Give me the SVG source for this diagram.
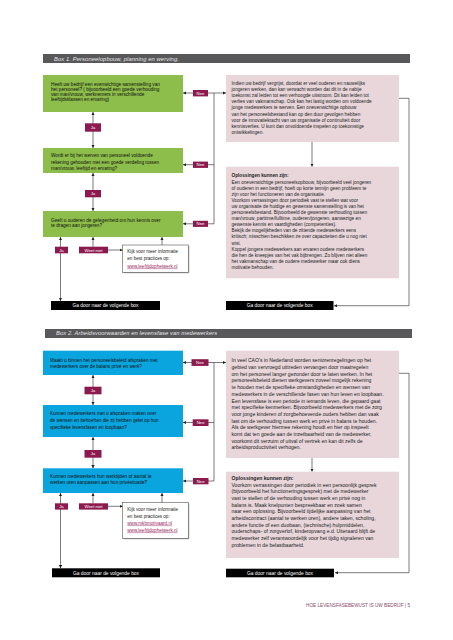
<svg xmlns="http://www.w3.org/2000/svg" width="453" height="640" viewBox="0 0 453 640">
<style>
text{font-family:"Liberation Sans",Arial,sans-serif;}
.hdr{fill:#58585a}
.htx{fill:#e6e6e6;font-size:5.8px;font-style:italic;letter-spacing:0.1px}
.grn{fill:#8dbd4a}
.blu{fill:#0aa4de}
.pnk{fill:#e8d6db}
.q{font-size:4.7px;fill:#111}
.p1{font-size:4.7px;fill:#222}
.p2{font-size:5.1px;fill:#222}
.b{font-weight:bold}
.lbl{fill:#8c1a4e}
.lt{font-size:4.3px;fill:#fff;text-anchor:middle}
.bar{fill:#000}
.bt{font-size:4.9px;fill:#fff;text-anchor:middle}
.info{fill:#fff;stroke:#333;stroke-width:0.5}
.shd{fill:#bbb}
.it{font-size:4.6px;fill:#222}
.lnk{fill:#9a2a66;text-decoration:underline}
.ln{stroke:#222;stroke-width:0.6;fill:none}
.lg{stroke:#444;stroke-width:0.7;fill:none}
.ft{font-size:4.6px;fill:#8a4d6c}
</style>
<defs>
<marker id="ah" viewBox="0 0 10 10" refX="10" refY="5" markerWidth="3.2" markerHeight="3.2" markerUnits="userSpaceOnUse" orient="auto-start-reverse"><path d="M0,0 L10,5 L0,10 z" fill="#222"/></marker>
</defs>
<rect width="453" height="640" fill="#fff"/>

<g id="header1"><rect class="hdr" x="43" y="54" width="367" height="9"/><text class="htx" x="54" y="60.5">Box 1.  Personeelopbouw, planning en werving.</text></g>

<g id="connectors">
<line class="ln" x1="93" y1="112" x2="93" y2="148" marker-start="url(#ah)" marker-end="url(#ah)"/>
<line class="ln" x1="93" y1="173" x2="93" y2="211" marker-start="url(#ah)" marker-end="url(#ah)"/>
<line class="ln" x1="193" y1="93" x2="183" y2="93" marker-end="url(#ah)"/>
<line class="ln" x1="208" y1="93" x2="226" y2="93" marker-end="url(#ah)"/>
<line class="ln" x1="193" y1="164.7" x2="183" y2="164.7" marker-end="url(#ah)"/>
<line class="ln" x1="208" y1="164.7" x2="214" y2="164.7"/>
<line class="ln" x1="193" y1="223.8" x2="183" y2="223.8" marker-end="url(#ah)"/>
<polyline class="ln" points="208,223.8 214,223.8 214,93"/>
<line class="ln" x1="60.5" y1="237" x2="60.5" y2="301" marker-start="url(#ah)" marker-end="url(#ah)"/>
<line class="ln" x1="93" y1="246.7" x2="93" y2="237" marker-end="url(#ah)"/>
<line class="ln" x1="162" y1="245" x2="162" y2="237" marker-end="url(#ah)"/>
<line class="ln" x1="108" y1="250" x2="122.7" y2="250" marker-end="url(#ah)"/>
<line class="ln" x1="312" y1="142" x2="312" y2="166.7" marker-end="url(#ah)"/>
<polyline class="lg" points="399,98.3 409,98.3 409,305.7 334,305.7" marker-end="url(#ah)"/>

<line class="ln" x1="93" y1="375" x2="93" y2="405" marker-start="url(#ah)" marker-end="url(#ah)"/>
<line class="ln" x1="93" y1="437" x2="93" y2="468.3" marker-start="url(#ah)" marker-end="url(#ah)"/>
<line class="ln" x1="192" y1="362.5" x2="183" y2="362.5" marker-end="url(#ah)"/>
<line class="ln" x1="208" y1="362.5" x2="226" y2="362.5" marker-end="url(#ah)"/>
<line class="ln" x1="193" y1="422.5" x2="183" y2="422.5" marker-end="url(#ah)"/>
<line class="ln" x1="208" y1="422.5" x2="214" y2="422.5"/>
<line class="ln" x1="193" y1="481" x2="183" y2="481" marker-end="url(#ah)"/>
<polyline class="ln" points="208,481 214,481 214,362.5"/>
<line class="ln" x1="60.5" y1="493" x2="60.5" y2="568.3" marker-start="url(#ah)" marker-end="url(#ah)"/>
<line class="ln" x1="93" y1="503.3" x2="93" y2="493" marker-end="url(#ah)"/>
<line class="ln" x1="162" y1="502.7" x2="162" y2="493" marker-end="url(#ah)"/>
<line class="ln" x1="108" y1="506.3" x2="122.7" y2="506.3" marker-end="url(#ah)"/>
<line class="ln" x1="312" y1="458" x2="312" y2="471.7" marker-end="url(#ah)"/>
<polyline class="lg" points="399,373.3 409,373.3 409,572.7 335,572.7" marker-end="url(#ah)"/>
</g>

<g id="q1"><rect class="grn" x="43" y="75" width="140" height="37"/>
<text class="q"><tspan x="51" y="85.7">Heeft uw bedrijf een evenwichtige samenstelling van</tspan><tspan x="51" y="90.7">het personeel? ( bijvoorbeeld een goede verhouding</tspan><tspan x="51" y="95.7">van man/vrouw, werknemers in verschillende</tspan><tspan x="51" y="100.7">leeftijdsklassen en ervaring)</tspan></text></g>

<g id="q2"><rect class="grn" x="43" y="148" width="140" height="25"/>
<text class="q"><tspan x="51" y="157.2">Wordt er bij het werven van personeel voldoende</tspan><tspan x="51" y="163.5">rekening gehouden met een goede verdeling tussen</tspan><tspan x="51" y="169.7">man/vrouw, leeftijd en ervaring?</tspan></text></g>

<g id="q3"><rect class="grn" x="43" y="211" width="140" height="26"/>
<text class="q"><tspan x="51" y="221.7">Geeft u ouderen de gelegenheid om hun kennis over</tspan><tspan x="51" y="227.4">te dragen aan jongeren?</tspan></text></g>

<g id="ja1a"><rect class="lbl" x="85" y="123.3" width="16" height="8.4"/><text class="lt" x="93" y="129">Ja</text></g>
<g id="ja1b"><rect class="lbl" x="85" y="190" width="16" height="7.3"/><text class="lt" x="93" y="195.2">Ja</text></g>
<g id="nee1a"><rect class="lbl" x="193" y="90" width="15" height="6.4"/><text class="lt" x="200.5" y="94.8">Nee</text></g>
<g id="nee1b"><rect class="lbl" x="193" y="161.6" width="15" height="6.3"/><text class="lt" x="200.5" y="166.3">Nee</text></g>
<g id="nee1c"><rect class="lbl" x="193" y="220.8" width="15" height="6.1"/><text class="lt" x="200.5" y="225.4">Nee</text></g>
<g id="ja1c"><rect class="lbl" x="55" y="246.7" width="13" height="6.6"/><text class="lt" x="61.5" y="251.6">Ja</text></g>
<g id="wn1"><rect class="lbl" x="79" y="246.7" width="29" height="6.6"/><text class="lt" x="93.5" y="251.6">Weet niet</text></g>

<g id="info1"><rect class="shd" x="123.7" y="246" width="65.6" height="27.3"/><rect class="info" x="122.7" y="245" width="65.6" height="27.3"/>
<text class="it"><tspan x="127.3" y="252.6">Kijk voor meer informatie</tspan><tspan x="127.3" y="260">en best practices op:</tspan><tspan class="lnk" x="127.3" y="267.6">www.leeftijdophetwerk.nl</tspan></text></g>

<g id="t1"><rect class="pnk" x="226" y="75" width="173" height="67"/>
<text class="p1"><tspan x="231.5" y="85">Indien uw bedrijf vergrijst, doordat er veel ouderen en nauwelijks</tspan><tspan x="231.5" y="91.1">jongeren werken, dan kan verwacht worden dat dit in de nabije</tspan><tspan x="231.5" y="97.2">toekomst zal leiden tot een verhoogde uitstroom. Dit kan leiden tot</tspan><tspan x="231.5" y="103.3">verlies van vakmanschap. Ook kan het lastig worden om voldoende</tspan><tspan x="231.5" y="109.4">jonge medewerkers te werven. Een onevenwichtige opbouw</tspan><tspan x="231.5" y="115.5">van het personeelsbestand kan op den duur gevolgen hebben</tspan><tspan x="231.5" y="121.6">voor de innovatiekracht van uw organisatie of continuïteit door</tspan><tspan x="231.5" y="127.7">kennisverlies. U kunt dan onvoldoende inspelen op toekomstige</tspan><tspan x="231.5" y="133.8">ontwikkelingen.</tspan></text></g>

<g id="s1"><rect class="pnk" x="226" y="166.7" width="173" height="111.6"/>
<text class="p1"><tspan class="b" x="231.5" y="177.4">Oplossingen kunnen zijn:</tspan><tspan x="231.5" y="183.5">Een onevenwichtige personeelsopbouw, bijvoorbeeld veel jongeren</tspan><tspan x="231.5" y="189.6">of ouderen in een bedrijf, hoeft op korte termijn geen probleem te</tspan><tspan x="231.5" y="195.7">zijn voor het functioneren van de organisatie.</tspan><tspan x="231.5" y="201.8">Voorkom verrassingen door periodiek vast te stellen wat voor</tspan><tspan x="231.5" y="207.9">uw organisatie de huidige en gewenste samenstelling is van het</tspan><tspan x="231.5" y="214">personeelsbestand. Bijvoorbeeld de gewenste verhouding tussen</tspan><tspan x="231.5" y="220.1">man/vrouw, parttime/fulltime, ouderen/jongeren, aanwezige en</tspan><tspan x="231.5" y="226.2">gewenste kennis en vaardigheden (competenties).</tspan><tspan x="231.5" y="232.3">Bekijk de mogelijkheden van de zittende medewerkers eens</tspan><tspan x="231.5" y="238.4">kritisch; misschien beschikken ze over capaciteiten die u nog niet</tspan><tspan x="231.5" y="244.5">wist.</tspan><tspan x="231.5" y="250.6">Koppel jongere medewerkers aan ervaren oudere medewerkers</tspan><tspan x="231.5" y="256.7">die hen de kneepjes van het vak bijbrengen. Zo blijven niet alleen</tspan><tspan x="231.5" y="262.8">het vakmanschap van de oudere medewerker maar ook diens</tspan><tspan x="231.5" y="268.9">motivatie behouden.</tspan></text></g>

<g id="go1a"><rect class="bar" x="51" y="301" width="109" height="9"/><text class="bt" x="105.5" y="307.3">Ga door naar de volgende box</text></g>
<g id="go1b"><rect class="bar" x="226" y="301" width="107.5" height="9"/><text class="bt" x="279.7" y="307.3">Ga door naar de volgende box</text></g>

<g id="header2"><rect class="hdr" x="45" y="329" width="367" height="9"/><text class="htx" x="56" y="335.4">Box 2.  Arbeidsvoorwaarden en levensfase van medewerkers</text></g>

<g id="q4"><rect class="blu" x="43" y="350.7" width="140" height="24.3"/>
<text class="q"><tspan x="50" y="361.7">Maakt u binnen het personeelsbeleid afspraken met</tspan><tspan x="50" y="368">medewerkers over de balans privé en werk?</tspan></text></g>

<g id="q5"><rect class="blu" x="43" y="405" width="140" height="32"/>
<text class="q"><tspan x="50" y="415">Kunnen medewerkers met u afspraken maken over</tspan><tspan x="50" y="421.9">de wensen en behoeften die zij hebben gelet op hun</tspan><tspan x="50" y="428.7">specifieke levensfasen en loopbaan?</tspan></text></g>

<g id="q6"><rect class="blu" x="43" y="468.3" width="140" height="24.7"/>
<text class="q"><tspan x="50" y="478.4">Kunnen medewerkers hun werktijden of aantal te</tspan><tspan x="50" y="484.2">werken uren aanpassen aan hun privésituatie?</tspan></text></g>

<g id="ja2a"><rect class="lbl" x="84.5" y="386.7" width="17" height="7.6"/><text class="lt" x="93" y="392.1">Ja</text></g>
<g id="ja2b"><rect class="lbl" x="84.5" y="450" width="17" height="7.7"/><text class="lt" x="93" y="455.4">Ja</text></g>
<g id="nee2a"><rect class="lbl" x="191.5" y="359.2" width="17" height="6.7"/><text class="lt" x="200" y="364.1">Nee</text></g>
<g id="nee2b"><rect class="lbl" x="192.7" y="419.3" width="15.8" height="6.7"/><text class="lt" x="200.6" y="424.2">Nee</text></g>
<g id="nee2c"><rect class="lbl" x="193" y="478" width="15.5" height="6.3"/><text class="lt" x="200.7" y="482.7">Nee</text></g>
<g id="ja2c"><rect class="lbl" x="55" y="503.3" width="13" height="6.3"/><text class="lt" x="61.5" y="508">Ja</text></g>
<g id="wn2"><rect class="lbl" x="79" y="503.3" width="29" height="6.3"/><text class="lt" x="93.5" y="508">Weet niet</text></g>

<g id="info2"><rect class="shd" x="123.7" y="503.7" width="65.6" height="35.6"/><rect class="info" x="122.7" y="502.7" width="65.6" height="35.6"/>
<text class="it"><tspan x="127.3" y="510.6">Kijk voor meer informatie</tspan><tspan x="127.3" y="517.6">en best practices op:</tspan><tspan class="lnk" x="127.3" y="524.6">www.mkbmotivaard.nl</tspan><tspan class="lnk" x="127.3" y="531.6">www.leeftijdophetwerk.nl</tspan></text></g>

<g id="t2"><rect class="pnk" x="226" y="350.7" width="173" height="107.3"/>
<text class="p2"><tspan x="231.5" y="362.3">In veel CAO's in Nederland worden seniorenregelingen op het</tspan><tspan x="231.5" y="369">gebied van vervroegd uittreden vervangen door maatregelen</tspan><tspan x="231.5" y="375.7">om het personeel langer gezonder door te laten werken. In het</tspan><tspan x="231.5" y="382.4">personeelsbeleid dienen werkgevers zoveel mogelijk rekening</tspan><tspan x="231.5" y="389.1">te houden met de specifieke omstandigheden en wensen van</tspan><tspan x="231.5" y="395.8">medewerkers in de verschillende fasen van hun leven en loopbaan.</tspan><tspan x="231.5" y="402.5">Een levensfase is een periode in iemands leven, die gepaard gaat</tspan><tspan x="231.5" y="409.2">met specifieke kenmerken. Bijvoorbeeld medewerkers met de zorg</tspan><tspan x="231.5" y="415.9">voor jonge kinderen of zorgbehoevende ouders hebben dan vaak</tspan><tspan x="231.5" y="422.6">last om de verhouding tussen werk en privé in balans te houden.</tspan><tspan x="231.5" y="429.3">Als de werkgever hiermee rekening houdt en hier op inspeelt</tspan><tspan x="231.5" y="436">komt dat ten goede aan de inzetbaarheid van de medewerker,</tspan><tspan x="231.5" y="442.7">voorkomt dit verzuim of uitval of vertrek en kan dit zelfs de</tspan><tspan x="231.5" y="449.4">arbeidsproductiviteit verhogen.</tspan></text></g>

<g id="s2"><rect class="pnk" x="226" y="471.7" width="173" height="86.3"/>
<text class="p2"><tspan class="b" x="231.5" y="479.8">Oplossingen kunnen zijn:</tspan><tspan x="231.5" y="486.5">Voorkom verrassingen door periodiek in een persoonlijk gesprek</tspan><tspan x="231.5" y="493.2">(bijvoorbeeld het functioneringsgesprek) met de medewerker</tspan><tspan x="231.5" y="499.9">vast te stellen of de verhouding tussen werk en privé nog in</tspan><tspan x="231.5" y="506.6">balans is. Maak knelpunten bespreekbaar en zoek samen</tspan><tspan x="231.5" y="513.3">naar een oplossing. Bijvoorbeeld tijdelijke aanpassing van het</tspan><tspan x="231.5" y="520">arbeidscontract (aantal te werken uren), andere taken, scholing,</tspan><tspan x="231.5" y="526.7">andere functie of een duobaan, (technische) hulpmiddelen,</tspan><tspan x="231.5" y="533.4">ouderschaps- of zorgverlof, kinderopvang e.d. Uiteraard blijft de</tspan><tspan x="231.5" y="540.1">medewerker zelf verantwoordelijk voor het tijdig signaleren van</tspan><tspan x="231.5" y="546.8">problemen in de belastbaarheid.</tspan></text></g>

<g id="go2a"><rect class="bar" x="52" y="568.3" width="108" height="9"/><text class="bt" x="106" y="574.6">Ga door naar de volgende box</text></g>
<g id="go2b"><rect class="bar" x="226" y="568.7" width="108" height="8.6"/><text class="bt" x="280" y="574.8">Ga door naar de volgende box</text></g>

<g id="footer"><text class="ft" x="306" y="606.5" textLength="104" lengthAdjust="spacingAndGlyphs">HOE LEVENSFASEBEWUST IS UW BEDRIJF | 5</text></g>
</svg>
